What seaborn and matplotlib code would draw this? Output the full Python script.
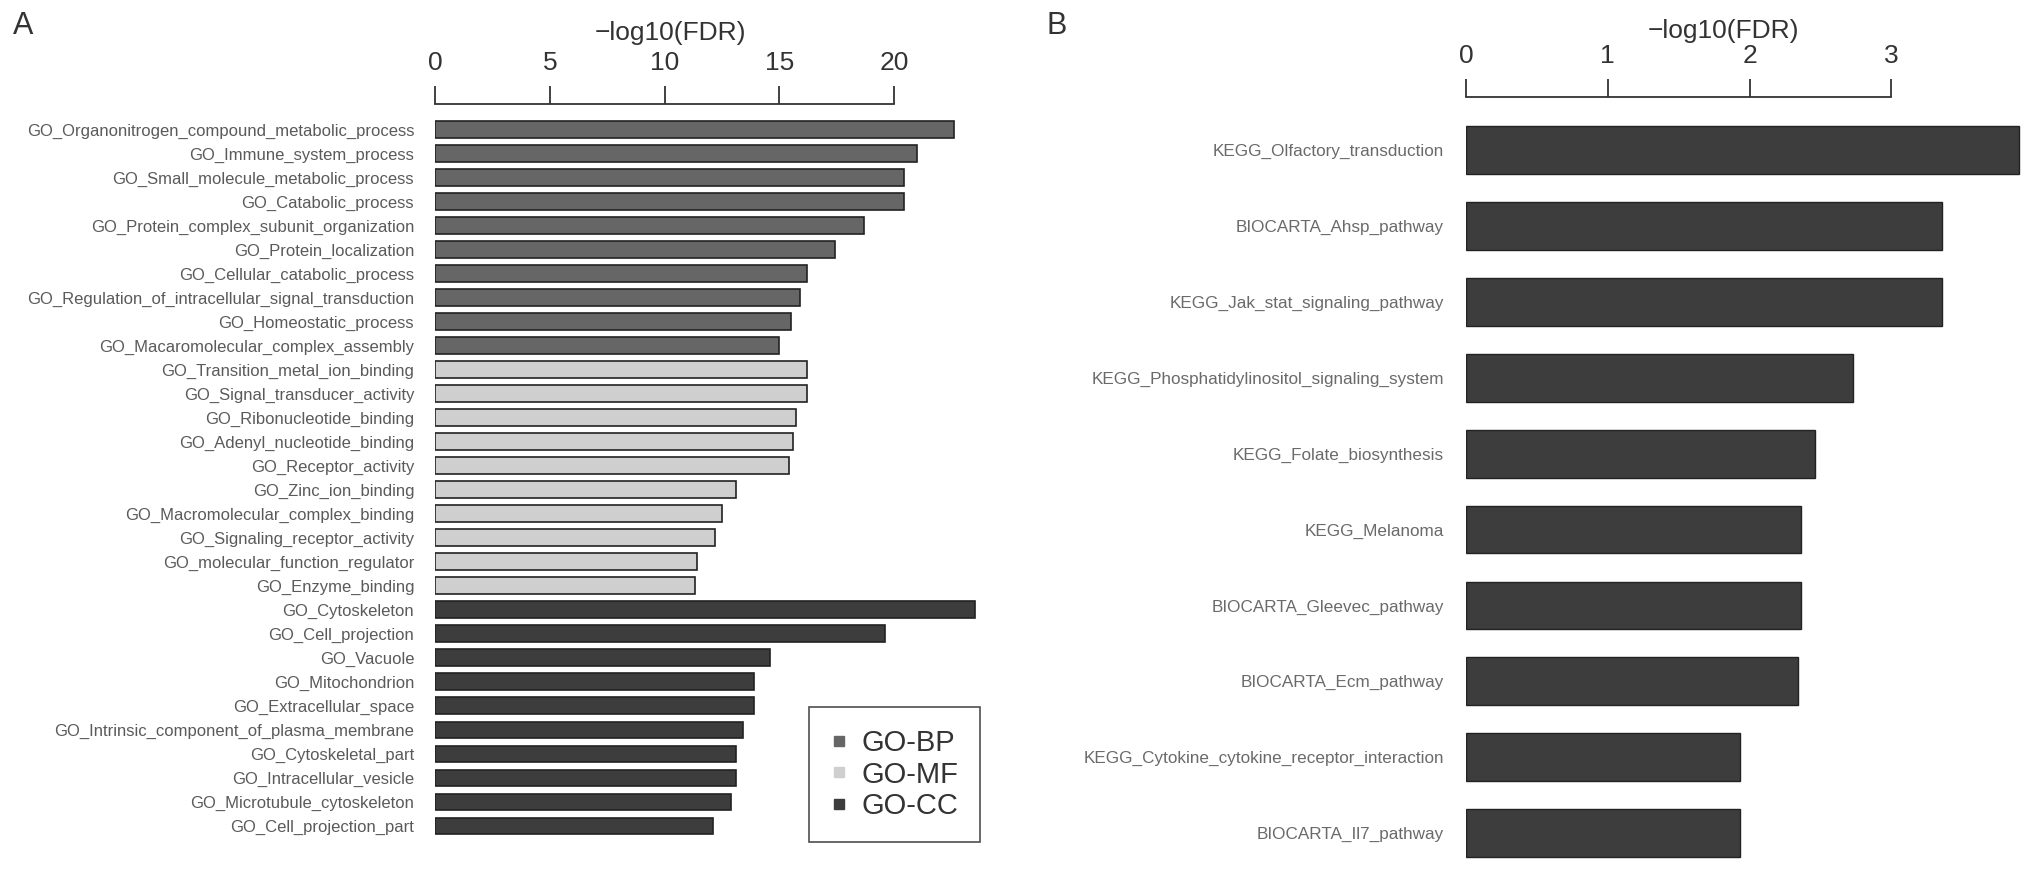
import matplotlib
matplotlib.use("Agg")
import matplotlib.pyplot as plt
from matplotlib.lines import Line2D
import pandas as pd
import seaborn as sns

# panel A: GO terms
go_terms = [
    "GO_Organonitrogen_compound_metabolic_process", "GO_Immune_system_process",
    "GO_Small_molecule_metabolic_process", "GO_Catabolic_process",
    "GO_Protein_complex_subunit_organization", "GO_Protein_localization",
    "GO_Cellular_catabolic_process", "GO_Regulation_of_intracellular_signal_transduction",
    "GO_Homeostatic_process", "GO_Macaromolecular_complex_assembly",
    "GO_Transition_metal_ion_binding", "GO_Signal_transducer_activity",
    "GO_Ribonucleotide_binding", "GO_Adenyl_nucleotide_binding",
    "GO_Receptor_activity", "GO_Zinc_ion_binding",
    "GO_Macromolecular_complex_binding", "GO_Signaling_receptor_activity",
    "GO_molecular_function_regulator", "GO_Enzyme_binding",
    "GO_Cytoskeleton", "GO_Cell_projection", "GO_Vacuole", "GO_Mitochondrion",
    "GO_Extracellular_space", "GO_Intrinsic_component_of_plasma_membrane",
    "GO_Cytoskeletal_part", "GO_Intracellular_vesicle",
    "GO_Microtubule_cytoskeleton", "GO_Cell_projection_part",
]
go_values = [22.6, 21.0, 20.4, 20.4, 18.7, 17.4, 16.2, 15.9, 15.5, 15.0,
             16.2, 16.2, 15.7, 15.6, 15.4, 13.1, 12.5, 12.2, 11.4, 11.3,
             23.5, 19.6, 14.6, 13.9, 13.9, 13.4, 13.1, 13.1, 12.9, 12.1]
go_groups = ["GO-BP"] * 10 + ["GO-MF"] * 10 + ["GO-CC"] * 10
go_ticks = [0, 5, 10, 15, 20]

# panel B: pathways
path_terms = [
    "KEGG_Olfactory_transduction", "BIOCARTA_Ahsp_pathway",
    "KEGG_Jak_stat_signaling_pathway", "KEGG_Phosphatidylinositol_signaling_system",
    "KEGG_Folate_biosynthesis", "KEGG_Melanoma", "BIOCARTA_Gleevec_pathway",
    "BIOCARTA_Ecm_pathway", "KEGG_Cytokine_cytokine_receptor_interaction",
    "BIOCARTA_Il7_pathway",
]
path_values = [3.9, 3.36, 3.36, 2.73, 2.46, 2.36, 2.36, 2.34, 1.93, 1.93]
path_ticks = [0, 1, 2, 3]

palette = {"GO-BP": "#666666", "GO-MF": "#cfcfcf", "GO-CC": "#3d3d3d"}

sns.set_style("white")
plt.rcParams["font.family"] = ["Liberation Sans", "DejaVu Sans"]

W, H = 2031, 874
fig = plt.figure(figsize=(W / 100, H / 100), dpi=100)


def style_top_axis(ax, ticks, xmax, label, label_x, label_y):
    ax.set_xlim(0, xmax)
    ax.xaxis.tick_top()
    ax.set_xticks(ticks)
    ax.set_xticklabels([str(t) for t in ticks])
    for s in ["right", "bottom", "left"]:
        ax.spines[s].set_visible(False)
    ax.spines["top"].set_bounds(ticks[0], ticks[-1])
    ax.spines["top"].set_linewidth(1.3)
    ax.spines["top"].set_color("#333333")
    ax.tick_params(axis="x", direction="out", length=13, width=1.3, pad=8,
                   labelsize=19, colors="#333333", top=True, bottom=False)
    ax.tick_params(axis="y", length=0)
    ax.set_xlabel("")
    ax.set_ylabel("")
    ax.text(label_x, label_y, label, transform=ax.transAxes, ha="center",
            va="bottom", fontsize=19, color="#333333")


# ---- panel A
df_go = pd.DataFrame({"term": go_terms, "value": go_values, "group": go_groups})
axA = fig.add_axes([435 / W, 36 / H, 542 / W, 734 / H])
sns.barplot(data=df_go, x="value", y="term", hue="group", palette=palette,
            dodge=False, width=0.7, edgecolor="#222222", linewidth=1.2,
            legend=False, ax=axA)
axA.set_ylim(29.5, -1.06)
style_top_axis(axA, go_ticks, 23.6, "\u2212log10(FDR)", 0.435, 1.08)
axA.tick_params(axis="y", labelsize=12, labelcolor="#5a5a5a", pad=15)

handles = [Line2D([0], [0], marker="s", linestyle="", markersize=7,
                  markerfacecolor=palette[g], markeredgecolor=palette[g], label=g)
           for g in ["GO-BP", "GO-MF", "GO-CC"]]
leg = fig.legend(handles=handles, loc="lower right",
                 bbox_to_anchor=(980 / W, 32 / H), fontsize=21, frameon=True,
                 fancybox=False, edgecolor="#222222", handletextpad=0.45,
                 borderpad=0.75, labelspacing=0.12, handlelength=0.6,
                 borderaxespad=0)
leg.get_frame().set_linewidth(1.2)
for t in leg.get_texts():
    t.set_color("#333333")

# ---- panel B
df_path = pd.DataFrame({"term": path_terms, "value": path_values})
axB = fig.add_axes([1466 / W, 3 / H, 560 / W, 774 / H])
sns.barplot(data=df_path, x="value", y="term", color="#3d3d3d", width=0.63,
            edgecolor="#222222", linewidth=1.0, ax=axB)
axB.set_ylim(9.5, -0.70)
style_top_axis(axB, path_ticks, 3.95, "\u2212log10(FDR)", 0.46, 1.07)
axB.tick_params(axis="y", labelsize=12.3, labelcolor="#6a6a6a", pad=16)

fig.text(13 / W, 1 - 26 / H, "A", fontsize=22, color="#333333", va="center")
fig.text(1047 / W, 1 - 26 / H, "B", fontsize=22, color="#333333", va="center")

fig.savefig("out.png", dpi=100)
